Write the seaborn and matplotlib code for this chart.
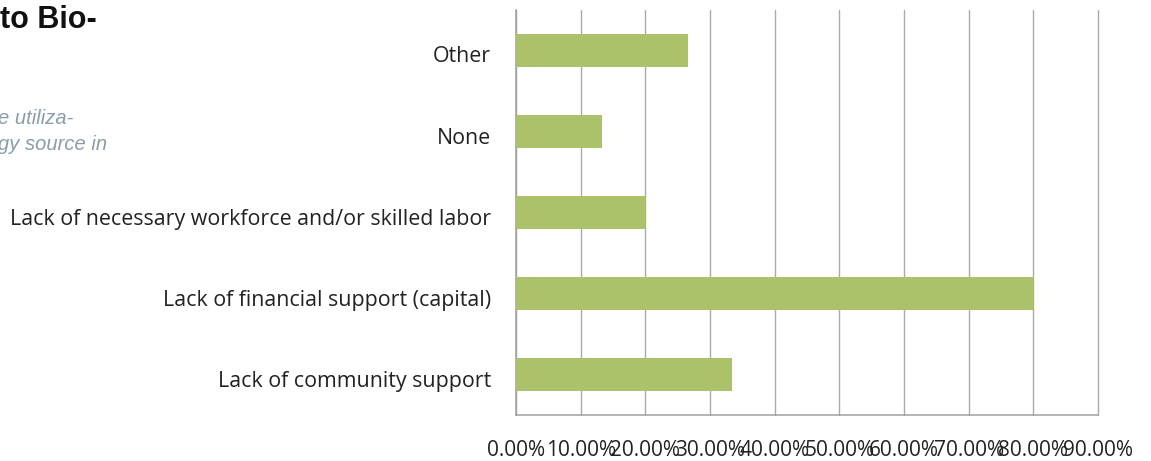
import matplotlib
matplotlib.use("Agg")
import matplotlib.pyplot as plt
import matplotlib.transforms as mtransforms
import seaborn as sns
import pandas as pd
from matplotlib.ticker import FuncFormatter, FixedLocator

barriers = [
    "Other",
    "None",
    "Lack of necessary workforce and/or skilled labor",
    "Lack of financial support (capital)",
    "Lack of community support",
]
shares = [26.67, 13.33, 20.0, 80.0, 33.33]
x_ticks = [0, 10, 20, 30, 40, 50, 60, 70, 80, 90]

df = pd.DataFrame({"barrier": barriers, "share": shares})

sns.set_theme(style="white")
plt.rcParams["font.family"] = ["Open Sans", "DejaVu Sans"]

W, H = 1151, 461
fig = plt.figure(figsize=(W / 100, H / 100), dpi=100)
ax = fig.add_axes([516 / W, 1 - 415 / H, (1098 - 516) / W, (415 - 10) / H])

sns.barplot(data=df, y="barrier", x="share", orient="h", order=barriers,
            color="#abc26b", saturation=1, width=0.4, linewidth=0,
            ax=ax, zorder=3)

ax.set_xlim(0, 90)
ax.set_ylim(len(barriers) - 0.5, -0.5)
ax.xaxis.set_major_locator(FixedLocator(x_ticks))
ax.xaxis.set_major_formatter(FuncFormatter(lambda v, p: f"{v:.2f}%"))
ax.grid(axis="x", color="#ababab", linewidth=1.0, zorder=0)
ax.set_axisbelow(True)
ax.set_xlabel("")
ax.set_ylabel("")
for gl in ax.get_xgridlines():
    gl.set_clip_on(False)

for side in ("top", "right"):
    ax.spines[side].set_visible(False)
for side in ("left", "bottom"):
    ax.spines[side].set_color("#a0a0a0")
    ax.spines[side].set_linewidth(1.1)

ax.tick_params(axis="x", which="major", length=5, width=1.0, color="#a0a0a0",
               direction="out", pad=13, labelsize=15, labelcolor="#222222")
ax.tick_params(axis="y", which="major", length=0, pad=18, labelsize=15.4,
               labelcolor="#222222")
ax.set_yticks([i - 0.5 for i in range(len(barriers) + 1)], minor=True)
ax.tick_params(axis="y", which="minor", length=5, width=1.0, color="#a0a0a0",
               direction="out")

# category labels sit a few pixels below the bar centres
shift = mtransforms.ScaledTranslation(0, -4 / 100, fig.dpi_scale_trans)
for lbl in ax.get_yticklabels():
    lbl.set_transform(lbl.get_transform() + shift)

fig.text(0 / W, 1 - 20 / H, "to Bio-", ha="left", va="center",
         fontsize=22, fontweight="bold", family=["Liberation Sans"],
         color="#111111")
fig.text(-2 / W, 1 - 118 / H, "e utiliza-", ha="left", va="center",
         fontsize=14.5, style="italic", family=["Liberation Sans"],
         color="#8a9cab")
fig.text(-2 / W, 1 - 144 / H, "gy source in", ha="left", va="center",
         fontsize=14.5, style="italic", family=["Liberation Sans"],
         color="#8a9cab")

fig.savefig("out.png", dpi=100)
